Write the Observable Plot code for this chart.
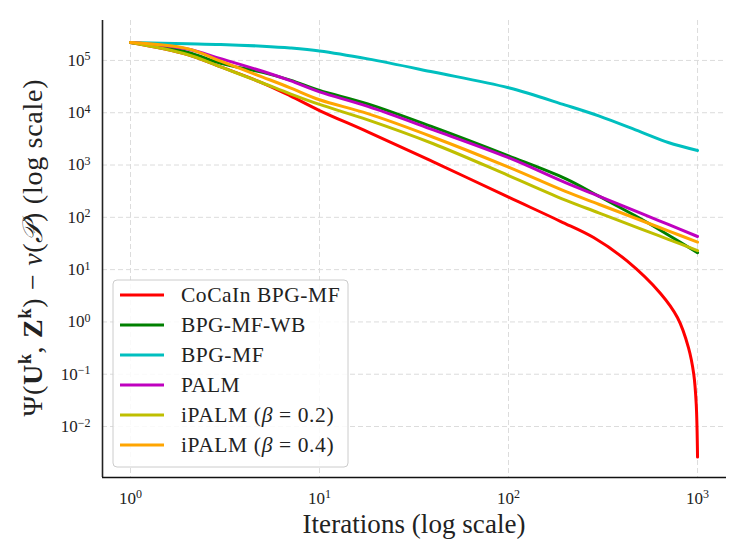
<!DOCTYPE html>
<html><head><meta charset="utf-8">
<script src="https://cdn.jsdelivr.net/npm/d3@7"></script>
<script src="https://cdn.jsdelivr.net/npm/@observablehq/plot@0.6"></script>
<style>body{margin:0;background:#fff}</style>
</head><body><div id="chart"></div>
<script>
const iterations = [1, 2, 3, 5, 7, 10, 18, 40, 100, 200, 300, 500, 700, 1000];
const cocainIterations = [1, 2, 3, 5, 7, 10, 18, 40, 100, 188, 282, 425, 637, 784, 896, 955, 984, 1000];

const cocainBPGMF = [2.2e5, 1.3e5, 7.5e4, 3.7e4, 2.1e4, 1.1e4, 4.3e3, 1.15e3, 243, 84, 41, 14.5, 3.5, 1.2, 0.32, 0.1, 0.027, 0.0026];
const bpgMFWB = [2.2e5, 1.44e5, 8.8e4, 5.9e4, 4.2e4, 2.67e4, 1.48e4, 5.3e3, 1.5e3, 550, 254, 94, 46, 21];
const bpgMF = [2.2e5, 2.09e5, 2.02e5, 1.87e5, 1.73e5, 1.52e5, 1.07e5, 6e4, 3.0e4, 1.4e4, 8.7e3, 4.3e3, 2.7e3, 1.9e3];
const palm = [2.2e5, 1.65e5, 1.08e5, 6.2e4, 4.1e4, 2.5e4, 1.32e4, 4.7e3, 1.38e3, 460, 255, 120, 73, 43];
const ipalm02 = [2.2e5, 1.3e5, 7.5e4, 3.7e4, 2.3e4, 1.44e4, 7.3e3, 2.55e3, 630, 214, 122, 60, 38, 23];
const ipalm04 = [2.2e5, 1.68e5, 9.7e4, 4.8e4, 3.0e4, 1.77e4, 9.6e3, 3.4e3, 910, 312, 178, 88, 55, 33.6];

const seriesNames = ["CoCaIn BPG-MF", "BPG-MF-WB", "BPG-MF", "PALM", "iPALM (β = 0.2)", "iPALM (β = 0.4)"];
const seriesColors = ["#ff0000", "#008000", "#00bfbf", "#bf00bf", "#bfbf00", "#ffa500"];
const xTicks = [1, 10, 100, 1000];
const yTicks = [1e-2, 1e-1, 1, 10, 100, 1e3, 1e4, 1e5];

const seriesValues = [cocainBPGMF, bpgMFWB, bpgMF, palm, ipalm02, ipalm04];
const seriesX = [cocainIterations, iterations, iterations, iterations, iterations, iterations];
const data = [];
seriesNames.forEach((name, i) => {
  seriesValues[i].forEach((v, j) => data.push({series: name, iter: seriesX[i][j], value: v}));
});

const FONT = "'Liberation Serif', 'DejaVu Serif', serif";
const expFmt = d => "10^" + Math.round(Math.log10(d));

const plot = Plot.plot({
  width: 747, height: 560,
  marginLeft: 102, marginRight: 21, marginTop: 20, marginBottom: 83,
  x: {type: "log", domain: [0.711, 1423]},
  y: {type: "log", domain: [1.06e-3, 5.8e5]},
  color: {domain: seriesNames, range: seriesColors},
  style: {fontFamily: FONT, fontSize: "17px", background: "white", color: "#222"},
  marks: [
    Plot.gridX(xTicks, {stroke: "#dcdcdc", strokeOpacity: 1, strokeDasharray: "5,3", strokeWidth: 1}),
    Plot.gridY(yTicks, {stroke: "#dcdcdc", strokeOpacity: 1, strokeDasharray: "5,3", strokeWidth: 1}),
    Plot.axisX(xTicks, {tickSize: 0, tickPadding: 14, tickFormat: expFmt, label: null, fontSize: 17}),
    Plot.axisY(yTicks, {tickSize: 0, tickPadding: 12, tickFormat: expFmt, label: null, fontSize: 17}),
    Plot.line(data, {x: "iter", y: "value", z: "series", stroke: "series", strokeWidth: 3, curve: "catmull-rom"}),
    Plot.ruleX([0.711], {stroke: "#222", strokeWidth: 1.6}),
    Plot.ruleY([1.06e-3], {stroke: "#111", strokeWidth: 1.6})
  ]
});
document.getElementById("chart").appendChild(plot);

const svg = d3.select(plot);
// superscript tick labels
svg.selectAll('[aria-label="x-axis tick label"] text, [aria-label="y-axis tick label"] text').each(function() {
  const t = d3.select(this);
  const s = t.text();
  const e = s.split("^")[1].replace("-", "\u2212");
  t.text("10");
  t.append("tspan").attr("dy", "-0.45em").attr("font-size", "12px").text(e);
});

// x label
svg.append("text")
  .attr("x", 414).attr("y", 533)
  .attr("text-anchor", "middle")
  .attr("font-family", FONT).attr("font-size", 27).attr("fill", "#222")
  .attr("textLength", 223).attr("lengthAdjust", "spacing")
  .text("Iterations (log scale)");

// y label
const yl = svg.append("text")
  .attr("transform", "translate(42,248) rotate(-90)")
  .attr("text-anchor", "middle")
  .attr("font-family", FONT).attr("font-size", 28).attr("fill", "#222")
  .attr("textLength", 337).attr("lengthAdjust", "spacing");
yl.append("tspan").text("Ψ(");
yl.append("tspan").attr("font-weight", "bold").text("U");
yl.append("tspan").attr("font-weight", "bold").attr("font-size", 18).attr("dy", -11).text("k");
yl.append("tspan").attr("dy", 11).text(", ");
yl.append("tspan").attr("font-weight", "bold").text("Z");
yl.append("tspan").attr("font-weight", "bold").attr("font-size", 18).attr("dy", -11).text("k");
yl.append("tspan").attr("dy", 11).text(") − ");
yl.append("tspan").attr("font-style", "italic").text("v");
yl.append("tspan").text("(");
yl.append("tspan").attr("font-style", "italic").text("𝒫");
yl.append("tspan").text(") (log scale)");

// legend
const legendWidths = [158.6, 124.3, 82.6, 58.6, 152.6, 152.6];
const lg = svg.append("g").attr("font-family", FONT).attr("font-size", 21.5).attr("fill", "#222").attr("text-anchor", "start");
lg.append("rect").attr("x", 113).attr("y", 280).attr("width", 235).attr("height", 187)
  .attr("rx", 4).attr("fill", "white").attr("fill-opacity", 0.85).attr("stroke", "#cccccc");
seriesNames.forEach((name, i) => {
  const yy = 295 + i * 30;
  lg.append("line").attr("x1", 120).attr("x2", 164).attr("y1", yy).attr("y2", yy)
    .attr("stroke", seriesColors[i]).attr("stroke-width", 3);
  const tx = lg.append("text").attr("x", 181).attr("y", yy + 7)
    .attr("textLength", legendWidths[i]).attr("lengthAdjust", "spacing");
  const m = name.match(/^(.*\()β( = .*)$/);
  if (m) {
    tx.append("tspan").text(m[1]);
    tx.append("tspan").attr("font-style", "italic").text("β");
    tx.append("tspan").text(m[2]);
  } else {
    tx.text(name);
  }
});
</script>
</body></html>
